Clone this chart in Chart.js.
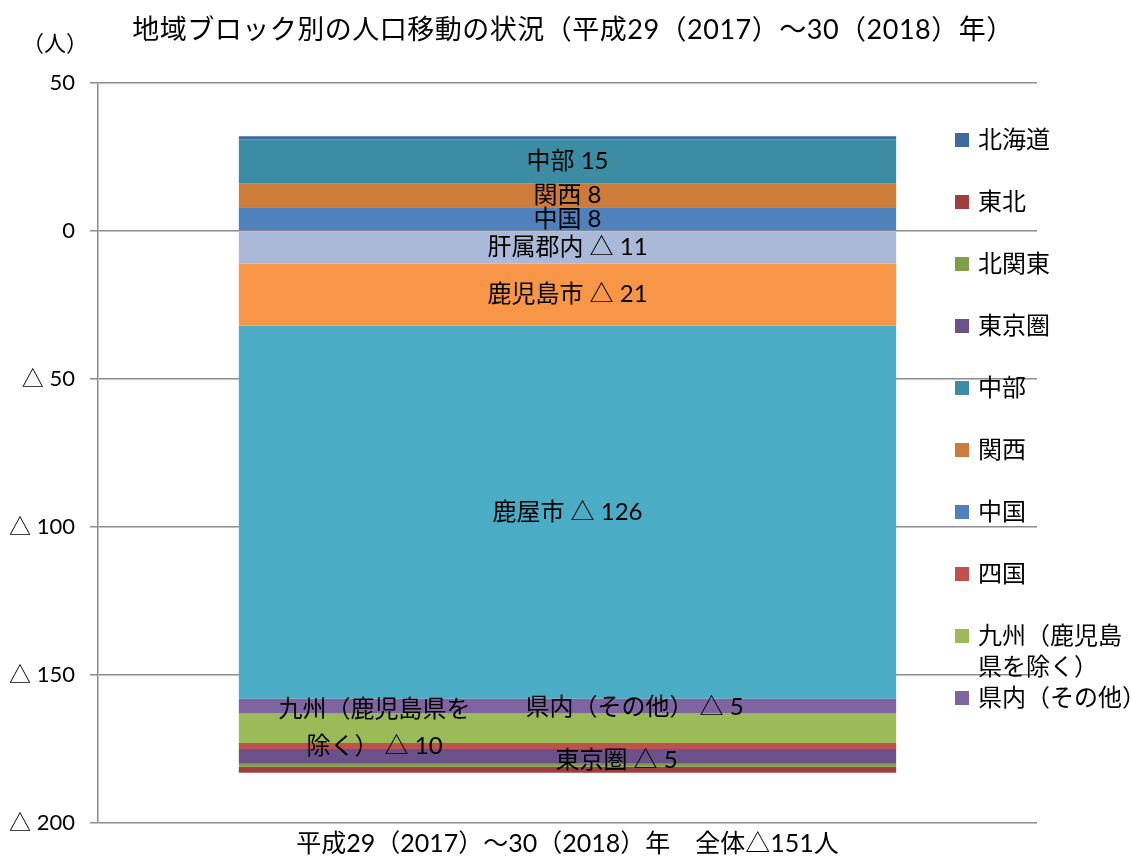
<!DOCTYPE html>
<html>
<head>
<meta charset="utf-8">
<script src="https://cdn.jsdelivr.net/npm/chart.js@4/dist/chart.umd.min.js"></script>
<style>
  html, body { margin: 0; padding: 0; background: #fff; }
  #wrap { width: 1131px; height: 860px; }
</style>
</head>
<body>
<div id="wrap"><canvas id="c" width="1131" height="860"></canvas></div>
<script>
// ---- data ----
const categories = ['平成29（2017）～30（2018）年\u3000全体△151人'];
// datasets in stacking order (from zero outward)
const regions = ['肝属郡内', '鹿児島市', '鹿屋市', '県内（その他）', '九州（鹿児島県を除く）', '四国', '中国', '関西', '中部', '東京圏', '北関東', '東北', '北海道'];
const values  = [-11, -21, -126, -5, -10, -2, 8, 8, 15, -5, -1, -2, 1];
const colors  = ['#AAB9D8', '#F79646', '#4BACC6', '#8064A2', '#9BBB59', '#C0504D', '#4F81BD', '#CC7B39', '#3C8DA3', '#6A5189', '#809E48', '#9E3F3D', '#3D6AA0'];
const segmentLabels = ['肝属郡内 △ 11', '鹿児島市 △ 21', '鹿屋市 △ 126', '県内（その他） △ 5', ['九州（鹿児島県を', '除く） △ 10'], '', '中国 8', '関西 8', '中部 15', '東京圏 △ 5', '', '', ''];
const legendRegions = ['北海道', '東北', '北関東', '東京圏', '中部', '関西', '中国', '四国', '九州（鹿児島県を除く）', '県内（その他）'];
const legendTexts = ['北海道', '東北', '北関東', '東京圏', '中部', '関西', '中国', '四国', ['九州（鹿児島', '県を除く）'], '県内（その他）'];
const yTickValues = [50, 0, -50, -100, -150, -200];
const yTickLabels = ['50', '0', '△ 50', '△ 100', '△ 150', '△ 200'];
const titleText = '地域ブロック別の人口移動の状況（平成29（2017）～30（2018）年）';
const unitText = '（人）';

// ---- style ----
const FONT = "Lato, 'Noto Sans CJK JP', sans-serif";
const labelOffsets = { 3: [67, 1], 4: [-193, -1], 9: [49, 4] };

const overlayPlugin = {
  id: 'overlay',
  afterDatasetsDraw(chart) {
    const ctx = chart.ctx;
    ctx.save();
    ctx.fillStyle = '#000';
    ctx.textAlign = 'center';
    ctx.textBaseline = 'middle';
    ctx.font = '24px ' + FONT;
    chart.data.datasets.forEach((ds, i) => {
      const txt = segmentLabels[i];
      if (!txt || (Array.isArray(txt) && !txt.length)) return;
      const el = chart.getDatasetMeta(i).data[0];
      const p = el.getProps(['x', 'y', 'base'], true);
      const off = labelOffsets[i] || [0, 0];
      const cx = p.x + off[0];
      const cy = (p.y + p.base) / 2 + off[1];
      const lines = Array.isArray(txt) ? txt : [txt];
      const lh = 37;
      lines.forEach((ln, k) => {
        ctx.fillText(ln, cx, cy + (k - (lines.length - 1) / 2) * lh);
      });
    });
    ctx.restore();
  },
  afterDraw(chart) {
    const ctx = chart.ctx;
    ctx.save();
    ctx.fillStyle = '#000';
    ctx.textBaseline = 'middle';
    // title
    ctx.textAlign = 'center';
    ctx.font = '27px ' + FONT;
    try { ctx.letterSpacing = '0.5px'; } catch (e) {}
    ctx.fillText(titleText, 573, 30);
    try { ctx.letterSpacing = '0px'; } catch (e) {}
    // unit label
    ctx.font = '22px ' + FONT;
    ctx.fillText(unitText, 55, 44);
    // legend
    ctx.textAlign = 'left';
    ctx.font = '24px ' + FONT;
    legendRegions.forEach((name, i) => {
      const idx = regions.indexOf(name);
      const y = 140 + i * 62;
      ctx.fillStyle = colors[idx];
      ctx.fillRect(955, y - 7, 14, 14);
      ctx.fillStyle = '#000';
      const t = legendTexts[i];
      const lines = Array.isArray(t) ? t : [t];
      lines.forEach((ln, k) => ctx.fillText(ln, 978, y + k * 31));
    });
    ctx.restore();
  }
};

const gridColor = '#8c8c8c';

new Chart(document.getElementById('c'), {
  type: 'bar',
  data: {
    labels: categories,
    datasets: regions.map((r, i) => ({
      label: r,
      data: [values[i]],
      backgroundColor: colors[i],
      borderWidth: 0,
      barPercentage: 0.70,
      categoryPercentage: 1.0
    }))
  },
  options: {
    responsive: false,
    animation: false,
    layout: { padding: { left: 0, right: 94, top: 83, bottom: 0 } },
    plugins: {
      legend: { display: false },
      tooltip: { enabled: false },
      title: { display: false }
    },
    scales: {
      x: {
        stacked: true,
        grid: { display: false, drawTicks: false },
        border: { display: false },
        ticks: { color: '#000', font: { family: FONT, size: 25 }, padding: 6 },
        afterFit(scale) { scale.height = 37; }
      },
      y: {
        stacked: true,
        min: -200,
        max: 50,
        afterBuildTicks(scale) { scale.ticks = yTickValues.map(v => ({ value: v })); },
        ticks: {
          color: '#000',
          font: { family: FONT, size: 22 },
          padding: 15,
          callback: (v) => yTickLabels[yTickValues.indexOf(v)]
        },
        grid: { color: gridColor, lineWidth: 1.5, tickLength: 8 },
        border: { display: true, color: gridColor, width: 1.5 },
        afterFit(scale) { scale.width = 98; }
      }
    }
  },
  plugins: [overlayPlugin]
});
</script>
</body>
</html>
